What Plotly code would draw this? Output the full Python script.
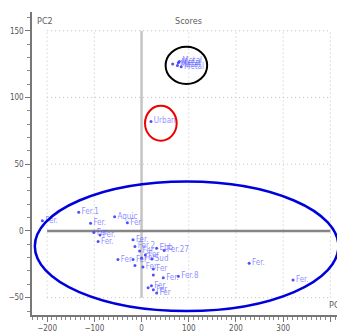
import plotly.graph_objects as go

# ---- data ----
labels = ["Fer.", "Fer.1", "Fer.", "Aquic", "Fer", "Fer", "Fer.", "Fer.", "Fer.", "Fer.2",
          "Fer", "Ebb", "Fer.27", "Fer", "Fer", "Fer", "Fer", "Sud", "", "Fer",
          "Fer", "", "Fer.", "Fer.8", "", "Fer", "Fer", "Fer", "Fer.", "Fer.",
          "Urban",
          "", "Metal", "Metal", "Metal", "Metal", "Metal"]
pc1 = [-210, -133, -108, -57, -30, -101, -88, -92, -18, -14,
       -4, 32, 48, 8, -50, -18, 0, 22, -14, 3,
       25, 25, 46, 78, 14, 25, 32, 21, 228, 321,
       20,
       66, 76, 80, 84, 78]
pc2 = [7.7, 13.9, 5.7, 10.6, 6.2, -1.2, -3, -8, -6.7, -11.6,
       -15, -12.9, -14.6, -18, -21.5, -21.5, -20.3, -21, -26, -27,
       -28.5, -33, -35, -34, -42.5, -44, -46.5, -41, -24.2, -36.7,
       82,
       125, 124, 127, 123, 126]

x_ticks = [-200, -100, 0, 100, 200, 300, 400]
y_ticks = [-50, 0, 50, 100, 150]

FONT = "Liberation Sans Narrow, DejaVu Sans Condensed, Arial Narrow, sans-serif"

fig = go.Figure()
fig.add_trace(go.Scatter(
    x=pc1, y=pc2, mode="markers+text", text=labels,
    textposition="middle right",
    textfont=dict(family=FONT, size=8, color="rgba(90,90,255,0.7)"),
    marker=dict(size=3, color="rgba(60,60,255,0.9)"),
    cliponaxis=False, hoverinfo="skip", showlegend=False,
))

GRID = dict(color="#c0c0c0", width=1, dash="1px,3px")
shapes = []
# dotted grid, limited to the grid box
for xv in x_ticks:
    if xv == 0:
        continue
    shapes.append(dict(type="line", xref="x", yref="y", x0=xv, x1=xv,
                       y0=min(y_ticks), y1=max(y_ticks), layer="below", line=GRID))
for yv in y_ticks:
    if yv == 0:
        continue
    shapes.append(dict(type="line", xref="x", yref="y", x0=min(x_ticks), x1=max(x_ticks),
                       y0=yv, y1=yv, layer="below", line=GRID))
# zero lines
shapes.append(dict(type="line", xref="x", yref="y", x0=0, x1=0,
                   y0=min(y_ticks), y1=max(y_ticks), layer="below",
                   line=dict(color="#c4c4c4", width=2.5)))
shapes.append(dict(type="line", xref="x", yref="y", x0=min(x_ticks), x1=max(x_ticks),
                   y0=0, y1=0, layer="below",
                   line=dict(color="#858585", width=2.5)))
# highlight ellipses
shapes.append(dict(type="circle", xref="x", yref="y", x0=-226, x1=417, y0=-60, y1=37,
                   line=dict(color="#0000dd", width=2.5)))
shapes.append(dict(type="circle", xref="x", yref="y", x0=7.4, x1=74.4, y0=67.5, y1=93.7,
                   line=dict(color="#ee0000", width=2)))
shapes.append(dict(type="circle", xref="x", yref="y", x0=51, x1=139, y0=110, y1=138,
                   line=dict(color="#000000", width=2)))

annotations = [
    dict(text="Scores", x=100, y=157, xref="x", yref="y", showarrow=False,
         font=dict(family=FONT, size=9, color="#606060")),
    dict(text="PC2", x=-226, y=157, xref="x", yref="y", showarrow=False, xanchor="left",
         font=dict(family=FONT, size=9, color="#606060")),
    dict(text="PC1", x=392, y=-55.5, xref="x", yref="y", showarrow=False, xanchor="left",
         font=dict(family=FONT, size=9, color="#606060")),
]

axis_common = dict(
    showgrid=False, zeroline=False, showline=True, linecolor="#777777", linewidth=1.5,
    ticks="outside", ticklen=5, tickcolor="#777777", tickwidth=1,
    tickfont=dict(family=FONT, size=8, color="#555555"),
    minor=dict(ticks="outside", ticklen=3, tickcolor="#888888", dtick=10, showgrid=False),
)

fig.update_layout(
    width=337, height=333,
    margin=dict(l=32, r=0, t=12, b=18),
    paper_bgcolor="white", plot_bgcolor="white",
    shapes=shapes, annotations=annotations,
    xaxis=dict(range=[-232, 414], tickvals=x_ticks, **axis_common),
    yaxis=dict(range=[-63, 164], tickvals=y_ticks, **axis_common),
    showlegend=False,
)

fig.write_html("out.html", config={"displayModeBar": False},
               post_script="document.body.style.margin='0';document.body.style.overflow='hidden';")
